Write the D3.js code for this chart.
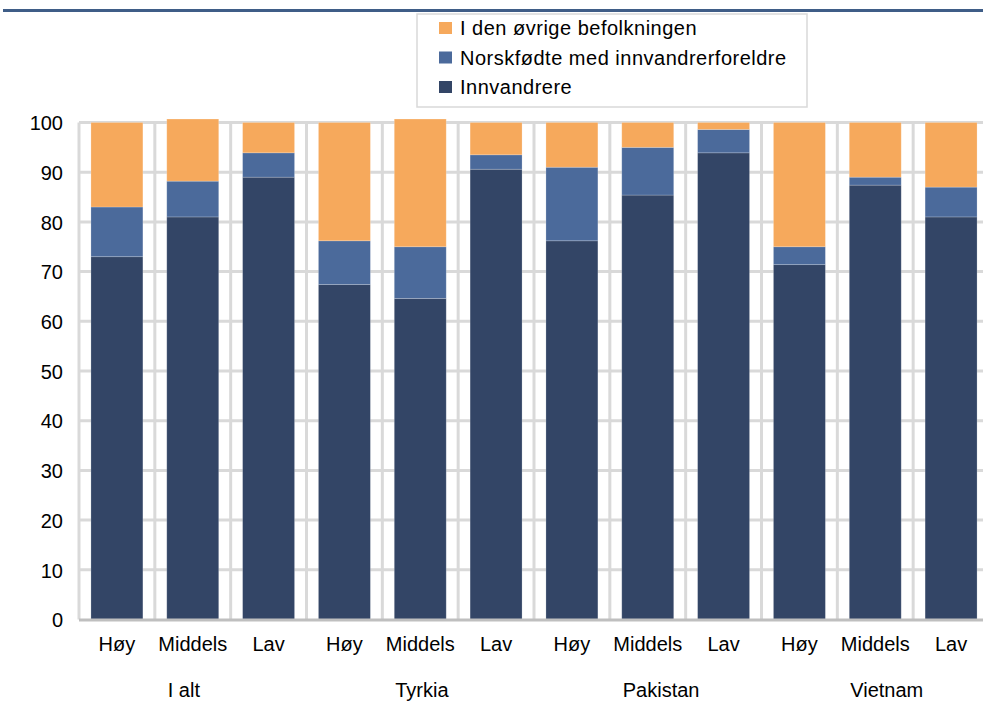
<!DOCTYPE html>
<html><head><meta charset="utf-8">
<script src="https://cdn.jsdelivr.net/npm/d3@7/dist/d3.min.js"></script>
<style>body{margin:0;background:#fff}svg{display:block;font-family:"Liberation Sans",Arial,sans-serif}</style>
</head><body><svg id="c" width="983" height="704"></svg>
<script>
const groups = ["I alt","Tyrkia","Pakistan","Vietnam"];
const levels = ["Høy","Middels","Lav"];
const seriesNames = ["Innvandrere","Norskfødte med innvandrerforeldre","I den øvrige befolkningen"];
const innvandrere = [73.0,81.0,89.0, 67.4,64.6,90.6, 76.2,85.4,93.9, 71.4,87.4,81.0];
const norskfodte  = [10.0, 7.2, 4.9,  8.8,10.4, 2.9, 14.8, 9.6, 4.7,  3.6, 1.6, 6.0];
const ovrige      = [17.0,12.5, 6.1, 23.8,25.7, 6.5,  9.0, 5.0, 1.4, 25.0,11.0,13.0];
const yTicks = [0,10,20,30,40,50,60,70,80,90,100];
const colors = ["#334566","#4b6a9b","#f6a95c"];
const FONT = "Liberation Sans, Arial, sans-serif";

const svg = d3.select("#c");
const cats = [];
groups.forEach(g=>levels.forEach(l=>cats.push(g+"|"+l)));
const rows = cats.map((c,i)=>({cat:c, Innvandrere:innvandrere[i], "Norskfødte med innvandrerforeldre":norskfodte[i], "I den øvrige befolkningen":ovrige[i]}));
const stack = d3.stack().keys(seriesNames)(rows);

const x = d3.scaleBand().domain(cats).range([79, 989]).paddingInner(0.315).paddingOuter(0.1575);
const y = d3.scaleLinear().domain([0,100]).range([619.5,122.5]);

// title rule
svg.append("line").attr("x1",3).attr("x2",983).attr("y1",10.5).attr("y2",10.5).attr("stroke","#3f5d87").attr("stroke-width",3);

// gridlines
const grid = svg.append("g");
grid.selectAll("line.h").data(yTicks.filter(d=>d>0)).join("line")
  .attr("x1",79).attr("x2",989).attr("y1",d=>y(d)).attr("y2",d=>y(d))
  .attr("stroke","#d9d9d9").attr("stroke-width",3);
const step = x.step();
const bounds = d3.range(cats.length+1).map(i=>79+i*step);
grid.selectAll("line.v").data(bounds).join("line")
  .attr("x1",d=>d).attr("x2",d=>d).attr("y1",y(100)).attr("y2",y(0))
  .attr("stroke","#d9d9d9").attr("stroke-width",3);

// bars
svg.append("g").selectAll("g").data(stack).join("g")
  .attr("fill",(d,i)=>colors[i])
  .selectAll("rect").data(d=>d).join("rect")
  .attr("x",d=>x(d.data.cat)).attr("width",x.bandwidth())
  .attr("y",d=>y(d[1])).attr("height",d=>y(d[0])-y(d[1]))
  .attr("stroke","rgba(255,255,255,0.25)").attr("stroke-width",0.8);

// x axis line
svg.append("line").attr("x1",79).attr("x2",989).attr("y1",y(0)+0.5).attr("y2",y(0)+0.5).attr("stroke","#bfbfbf").attr("stroke-width",3);

// y axis labels
const yAxis = d3.axisLeft(y).tickValues(yTicks).tickSize(0).tickPadding(0);
const ya = svg.append("g").attr("transform","translate(63,0)").call(yAxis);
ya.select(".domain").remove();
ya.selectAll("text").attr("font-size",20).attr("fill","#000").attr("font-family",FONT).attr("dy","0.36em");

// x category labels
const xAxis = d3.axisBottom(x).tickSize(0).tickPadding(0).tickFormat(d=>d.split("|")[1]);
const xa = svg.append("g").attr("transform","translate(0,651)").call(xAxis);
xa.select(".domain").remove();
xa.selectAll("text").attr("font-size",20).attr("fill","#000").attr("font-family",FONT).attr("dy","0");

// group labels
svg.append("g").selectAll("text").data(groups).join("text")
  .attr("x",g=>x(g+"|Middels")+x.bandwidth()/2-25)
  .attr("y",697).attr("text-anchor","start").attr("font-size",20).attr("fill","#000")
  .attr("font-family",FONT).text(d=>d);

// legend
const lg = svg.append("g");
lg.append("rect").attr("x",417).attr("y",14).attr("width",390).attr("height",93)
  .attr("fill","#fff").attr("stroke","#d9d9d9").attr("stroke-width",1.5);
const legItems = [2,1,0];
lg.selectAll("g.it").data(legItems).join("g").attr("transform",(d,i)=>`translate(439,${28+i*29.5})`)
  .each(function(si){
    const g=d3.select(this);
    g.append("rect").attr("x",0).attr("y",-6).attr("width",13).attr("height",12).attr("fill",colors[si]);
    g.append("text").attr("x",21).attr("y",7).attr("font-size",20).attr("letter-spacing","0.5px")
      .attr("fill","#000").attr("font-family",FONT).text(seriesNames[si]);
  });
</script></body></html>
